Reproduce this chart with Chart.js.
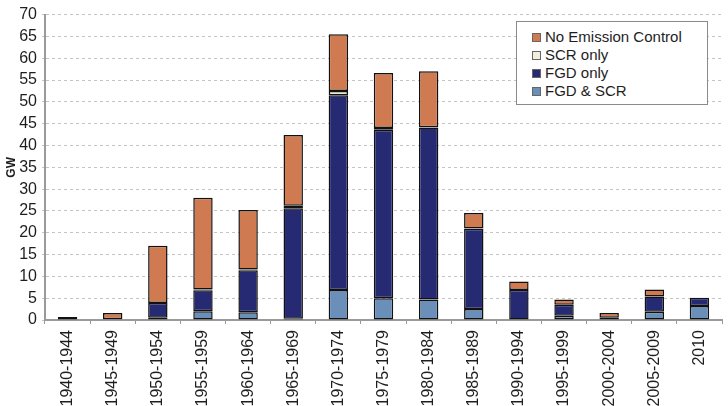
<!DOCTYPE html>
<html>
<head>
<meta charset="utf-8">
<script src="https://cdn.jsdelivr.net/npm/chart.js@4.4.0/dist/chart.umd.min.js"></script>
<style>
  html, body { margin: 0; padding: 0; background: #fff; overflow: hidden; }
  #wrap { position: relative; width: 728px; height: 406px; }
  #legend {
    position: absolute; left: 516px; top: 21px; width: 192px; height: 84px;
    border: 1px solid #8a8a8a; background: #fff; box-sizing: border-box;
    padding: 6px 0 0 15px; font-family: "Liberation Sans", Arial, sans-serif;
    font-size: 15px; color: #1e1e1e; line-height: 18px;
  }
  #legend .item { display: flex; align-items: center; white-space: nowrap; }
  #legend .sw { width: 7px; height: 7px; border: 1px solid #666; margin-right: 4px; }
</style>
</head>
<body>
<div id="wrap">
  <canvas id="chart" width="728" height="406"></canvas>
  <div id="legend"></div>
</div>
<script>
// Periods and stacked capacities (GW)
const periods = ['1940-1944', '1945-1949', '1950-1954', '1955-1959', '1960-1964', '1965-1969',
  '1970-1974', '1975-1979', '1980-1984', '1985-1989', '1990-1994', '1995-1999',
  '2000-2004', '2005-2009', '2010'];

const fgdScr = [null, null, 0.5, 2.0, 1.8, 0.3, 6.9, 5.0, 4.7, 2.5, null, 1.0, null, 1.9, 3.2];
const fgdOnly = [null, 0.2, 3.4, 4.8, 9.6, 25.3, 44.6, 38.6, 39.4, 18.4, 6.9, 2.5, 0.5, 3.5, 1.9];
const scrOnly = [null, null, null, 0.2, 0.2, 0.6, 1.0, 0.4, 0.1, 0.1, null, null, null, null, null];
const noControl = [0.7, 1.4, 13.1, 21.0, 13.6, 16.2, 13.0, 12.6, 12.8, 3.5, 1.9, 1.2, 1.1, 1.6, null];

const yMax = 70;
const yStep = 5;

const FONT = '"Liberation Sans", Arial, sans-serif';

const datasets = [
  { label: 'FGD & SCR', data: fgdScr, backgroundColor: '#6a8fb9' },
  { label: 'FGD only', data: fgdOnly, backgroundColor: '#262a72' },
  { label: 'SCR only', data: scrOnly, backgroundColor: '#f2f0dc' },
  { label: 'No Emission Control', data: noControl, backgroundColor: '#cf7a50' }
].map(d => Object.assign(d, {
  borderColor: '#111',
  borderWidth: 1.5,
  borderSkipped: false,
  barPercentage: 0.43,
  categoryPercentage: 1
}));

new Chart(document.getElementById('chart'), {
  type: 'bar',
  data: { labels: periods, datasets: datasets },
  options: {
    responsive: false,
    animation: false,
    layout: { padding: { top: 13, right: 6, left: 2, bottom: 0 } },
    plugins: { legend: { display: false }, tooltip: { enabled: false } },
    scales: {
      x: {
        stacked: true,
        afterFit: s => { s.height = 86; },
        grid: { drawOnChartArea: false, tickLength: 4, color: '#999' },
        border: { color: '#9a9a9a', width: 2 },
        ticks: {
          minRotation: 90, maxRotation: 90, autoSkip: false,
          font: { family: FONT, size: 16 }, color: '#1e1e1e', padding: 6
        }
      },
      y: {
        stacked: true,
        min: 0, max: yMax,
        afterFit: s => { s.width = 43; },
        grid: { color: '#c4c4c4', lineWidth: 1, tickLength: 3 },
        border: { color: '#9a9a9a', width: 2, dash: [3, 3] },
        ticks: { stepSize: yStep, autoSkip: false, font: { family: FONT, size: 16 }, color: '#1e1e1e', padding: 5 },
        title: { display: true, text: 'GW', font: { family: FONT, size: 12, weight: 'bold' }, color: '#1e1e1e', padding: { top: 2, bottom: 0 } }
      }
    }
  }
});

// Legend box, listed top to bottom as in the figure
const legend = document.getElementById('legend');
datasets.slice().reverse().forEach(d => {
  const row = document.createElement('div');
  row.className = 'item';
  row.innerHTML = '<span class="sw" style="background:' + d.backgroundColor + '"></span>' + d.label;
  legend.appendChild(row);
});
</script>
</body>
</html>
